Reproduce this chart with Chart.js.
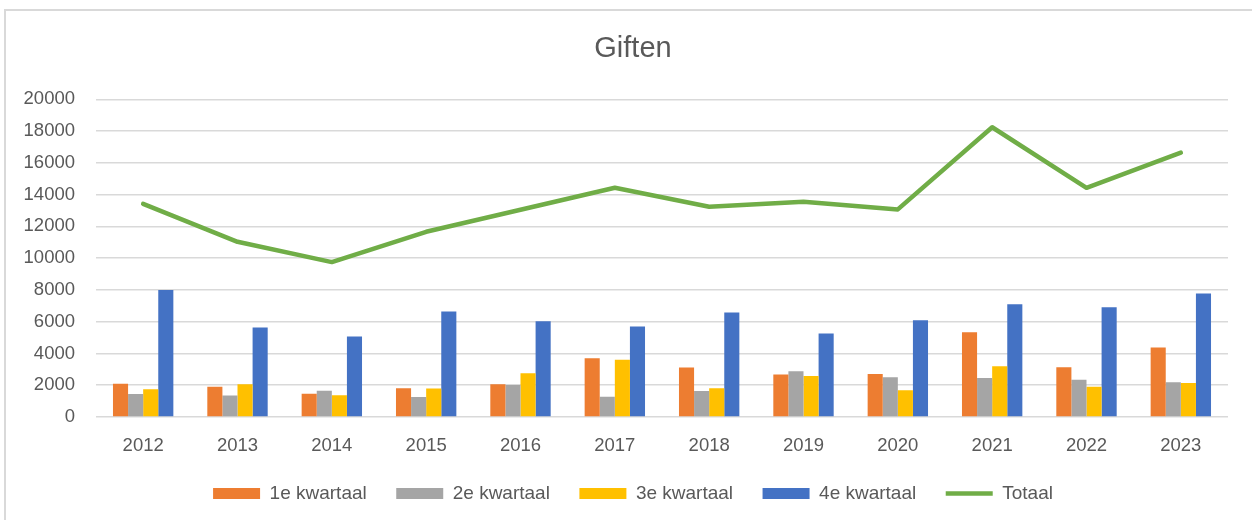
<!DOCTYPE html>
<html>
<head>
<meta charset="utf-8">
<script src="https://cdn.jsdelivr.net/npm/chart.js@4.4.1/dist/chart.umd.min.js"></script>
<style>
    html, body { margin: 0; padding: 0; background: #fff; overflow: hidden; }
    #wrap { position: relative; width: 1252px; height: 520px; }
    #rand { position: absolute; left: 4px; top: 9px; width: 1400px; height: 700px; border-left: 2px solid #D9D9D9; border-top: 2px solid #D9D9D9; }
    #chartGiften { position: absolute; left: 0; top: 0; }
</style>
</head>
<body>
<div id="wrap">
    <div id="rand"></div>
    <canvas id="chartGiften" width="1252" height="520"></canvas>
</div>
<script>
const jaren = ['2012', '2013', '2014', '2015', '2016', '2017', '2018', '2019', '2020', '2021', '2022', '2023']

const kwartaal1 = [2100, 1910, 1470, 1810, 2060, 3700, 3110, 2670, 2710, 5340, 3130, 4370]
const kwartaal2 = [1450, 1350, 1660, 1260, 2020, 1280, 1640, 2880, 2500, 2460, 2350, 2190]
const kwartaal3 = [1750, 2060, 1370, 1790, 2750, 3610, 1810, 2580, 1680, 3190, 1910, 2140]
const kwartaal4 = [8000, 5630, 5060, 6640, 6030, 5690, 6580, 5250, 6090, 7100, 6910, 7770]
const totaal = [13420, 11030, 9750, 11660, 13050, 14430, 13240, 13550, 13070, 18240, 14430, 16640]

Chart.defaults.font.family = "'Liberation Sans', Arial, sans-serif"
Chart.defaults.color = '#595959'

const canvas = document.getElementById('chartGiften')
const context = canvas.getContext('2d');

const balk = (label, data, kleur) => ({
    type: 'bar',
    label: label,
    data: data,
    backgroundColor: kleur,
    borderWidth: 0,
    pointStyle: 'rect',
    categoryPercentage: 0.64,
    barPercentage: 1.0
})

// y-labels steken links buiten de as uit, dus niet afknippen
const geenClip = {
    id: 'geenClip',
    beforeDraw: (chart) => {
        chart.scales.y._computeLabelArea = () => undefined
    }
}

const chartGiften = new Chart(context, {
    data: {
        labels: jaren,
        datasets: [
            balk('1e kwartaal', kwartaal1, '#ED7D31'),
            balk('2e kwartaal', kwartaal2, '#A5A5A5'),
            balk('3e kwartaal', kwartaal3, '#FFC000'),
            balk('4e kwartaal', kwartaal4, '#4472C4'),
            {
                type: 'line',
                label: 'Totaal',
                data: totaal,
                borderColor: '#70AD47',
                backgroundColor: '#70AD47',
                borderWidth: 4.5,
                borderCapStyle: 'round',
                borderJoinStyle: 'round',
                pointRadius: 0,
                pointHoverRadius: 0,
                pointStyle: 'line',
                tension: 0
            }
        ]
    },
    plugins: [geenClip],
    options: {
        responsive: false,
        animation: false,
        layout: {
            padding: { top: 10, right: 24, bottom: 7, left: 38 }
        },
        plugins: {
            title: {
                display: true,
                text: 'Giften',
                color: '#595959',
                font: { size: 29, weight: 'normal' },
                padding: { top: 22, bottom: 32.5 }
            },
            legend: {
                position: 'bottom',
                labels: {
                    usePointStyle: true,
                    pointStyleWidth: 47,
                    boxHeight: 11,
                    padding: 29.5,
                    color: '#595959',
                    font: { size: 19 }
                }
            },
            tooltip: { enabled: false }
        },
        scales: {
            x: {
                grid: { display: false, drawTicks: false },
                border: { display: false },
                ticks: { padding: 18, font: { size: 18.5 }, color: '#595959' },
                afterFit: (scale) => { scale.height = 37.5 }
            },
            y: {
                min: 0,
                max: 20000,
                ticks: {
                    stepSize: 2000,
                    padding: 21,
                    font: { size: 18.5 },
                    color: '#595959',
                    callback: (waarde) => String(waarde)
                },
                grid: { color: '#D9D9D9', lineWidth: 1.5, drawTicks: false },
                border: { display: false },
                afterFit: (scale) => { scale.width = 58 }
            }
        }
    }
});
</script>
</body>
</html>
